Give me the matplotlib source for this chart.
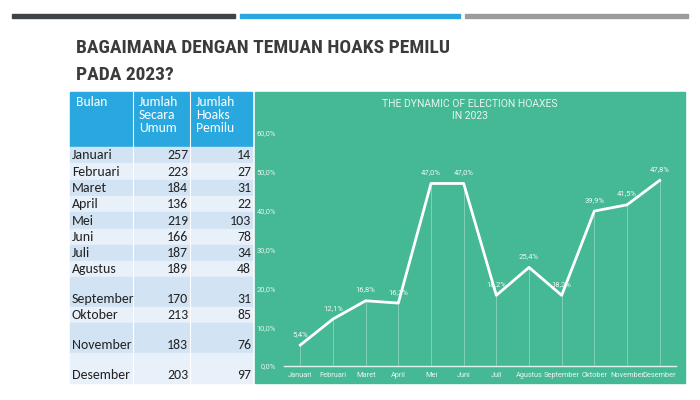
import matplotlib.pyplot as plt
from matplotlib.patches import Rectangle

bulan = ["Januari", "Februari", "Maret", "April", "Mei", "Juni", "Juli",
         "Agustus", "September", "Oktober", "November", "Desember"]
jumlah_umum = [257, 223, 184, 136, 219, 166, 187, 189, 170, 213, 183, 203]
jumlah_pemilu = [14, 27, 31, 22, 103, 78, 34, 48, 31, 85, 76, 97]
persen = [5.4, 12.1, 16.8, 16.2, 47.0, 47.0, 18.2, 25.4, 18.2, 39.9, 41.5, 47.8]
# tinggi baris tabel (px), beberapa baris lebih tinggi seperti di slide
tinggi_baris = [16, 17, 16, 16, 17, 16, 16, 16, 30, 16, 30, 30]
header = ["Bulan", "Jumlah\nSecara\nUmum", "Jumlah\nHoaks\nPemilu"]

hijau = "#45b995"
biru = "#29a8df"
font_grafik = ["Roboto", "DejaVu Sans"]
font_tabel = ["Carlito", "DejaVu Sans"]
font_judul = ["Roboto Condensed", "DejaVu Sans"]

fig = plt.figure(figsize=(7, 4), dpi=100)
fig.patch.set_facecolor("white")

# kanvas latar dalam koordinat piksel
bg = fig.add_axes([0, 0, 1, 1])
bg.set_xlim(0, 700)
bg.set_ylim(400, 0)
bg.axis("off")

# garis dekorasi atas
bg.add_patch(Rectangle((12, 14), 223, 4, color="#3f4449"))
bg.add_patch(Rectangle((240, 14), 220, 4, color=biru))
bg.add_patch(Rectangle((465, 14), 223, 4, color="#9a9c9e"))

bg.text(76, 48, "BAGAIMANA DENGAN TEMUAN HOAKS PEMILU", fontsize=14,
        fontweight="bold", color="#3b3b3b", va="center", family=font_judul)
bg.text(76, 75, "PADA 2023?", fontsize=14, fontweight="bold",
        color="#3b3b3b", va="center", family=font_judul)

# tabel
kolom_x = [70, 133, 190, 252]
bg.add_patch(Rectangle((70, 92), 182, 54, color=biru))
for i, h in enumerate(header):
    bg.text(kolom_x[i] + 6, 96, h, color="white", fontsize=9.8, va="top",
            family=font_tabel, linespacing=1.08)
for x in kolom_x[1:-1]:
    bg.plot([x, x], [92, 146], color="white", lw=0.8)

y = 147
for i in range(len(bulan)):
    t = tinggi_baris[i]
    warna = "#d2e3f3" if i % 2 == 0 else "#e8f0f9"
    bg.add_patch(Rectangle((70, y), 182, t, color=warna))
    yt = y + t - 8
    bg.text(72, yt, bulan[i], fontsize=10, va="center", color="#222222",
            family=font_tabel)
    bg.text(188, yt, str(jumlah_umum[i]), fontsize=10, va="center",
            ha="right", color="#222222", family=font_tabel)
    bg.text(251, yt, str(jumlah_pemilu[i]), fontsize=10, va="center",
            ha="right", color="#222222", family=font_tabel)
    y += t
for x in kolom_x[1:-1]:
    bg.plot([x, x], [147, y], color="white", lw=0.8)

# panel hijau grafik
bg.add_patch(Rectangle((255, 92), 430, 291, color=hijau))
bg.text(470, 104, "THE DYNAMIC OF ELECTION HOAXES", ha="center", va="center",
        color="#e6f5ee", fontsize=7.5, family=font_grafik)
bg.text(470, 116, "IN 2023", ha="center", va="center", color="#e6f5ee",
        fontsize=7.5, family=font_grafik)

ax = fig.add_axes([284 / 700, 34 / 400, 392 / 700, 233 / 400])
ax.set_facecolor("none")
xs = range(len(bulan))
ax.plot(xs, persen, color="white", lw=2)
ax.vlines(xs, 0, persen, color="white", lw=0.5, alpha=0.45)
for x, p in zip(xs, persen):
    ax.annotate(f"{p:.1f}%".replace(".", ","), (x, p), xytext=(0, 6),
                textcoords="offset points", ha="center", va="bottom",
                color="#eef8f3", fontsize=5.5, family=font_grafik)

ax.set_xlim(-0.5, len(bulan) - 0.5)
ax.set_ylim(0, 60)
ax.set_yticks(range(0, 61, 10))
ax.set_yticklabels([f"{v},0%" for v in range(0, 61, 10)], family=font_grafik)
ax.set_xticks(list(xs))
ax.set_xticklabels(bulan, family=font_grafik)
for s in ["top", "right", "left"]:
    ax.spines[s].set_visible(False)
ax.spines["bottom"].set_color("#e0f2ea")
ax.spines["bottom"].set_linewidth(1)
ax.tick_params(axis="both", length=0, colors="#e6f5ee", labelsize=5.3)
ax.tick_params(axis="y", pad=6)
ax.tick_params(axis="x", pad=4)

fig.savefig("out.png", dpi=100)
